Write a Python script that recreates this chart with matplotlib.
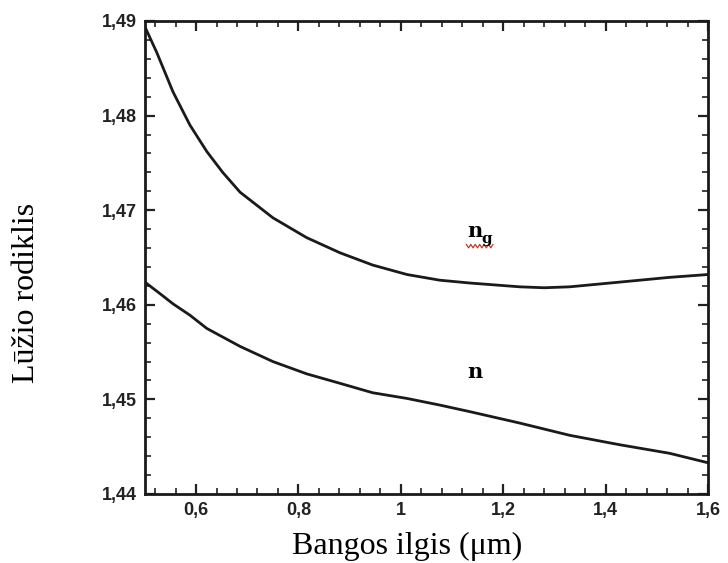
import numpy as np
import matplotlib
matplotlib.use('Agg')
import matplotlib.pyplot as plt
from matplotlib.ticker import MultipleLocator, FuncFormatter

# Wavelength in micrometres and the two refractive index curves
wl_group = [0.500, 0.523, 0.555, 0.588, 0.621, 0.652, 0.686, 0.750, 0.816,
            0.881, 0.945, 1.012, 1.076, 1.135, 1.232, 1.280, 1.330, 1.428,
            1.525, 1.600]
n_group = [1.4894, 1.4867, 1.4825, 1.4790, 1.4762, 1.4740, 1.4719, 1.4692,
           1.4671, 1.4655, 1.4642, 1.4632, 1.4626, 1.4623, 1.4619, 1.4618,
           1.4619, 1.4624, 1.4629, 1.4632]
wl_phase = [0.500, 0.529, 0.555, 0.588, 0.621, 0.686, 0.750, 0.816, 0.881,
            0.945, 1.012, 1.076, 1.135, 1.232, 1.330, 1.428, 1.525, 1.600]
n_phase = [1.4624, 1.4612, 1.4601, 1.4589, 1.4575, 1.4556, 1.4540, 1.4527,
           1.4517, 1.4507, 1.4501, 1.4494, 1.4487, 1.4475, 1.4462, 1.4452,
           1.4443, 1.4433]

x_ticks = [0.6, 0.8, 1.0, 1.2, 1.4, 1.6]
y_ticks = [1.44, 1.45, 1.46, 1.47, 1.48, 1.49]


def comma_fmt(v, pos):
    return ('%g' % round(v, 3)).replace('.', ',')


fig = plt.figure(figsize=(7.28, 5.63), dpi=100)
ax = fig.add_axes([0.199, 0.1226, 0.7735, 0.8401])

ax.plot(wl_group, n_group, color='#1a1a1a', lw=2.0, solid_joinstyle='round')
ax.plot(wl_phase, n_phase, color='#1a1a1a', lw=2.0, solid_joinstyle='round')

ax.set_xlim(0.5, 1.6)
ax.set_ylim(1.44, 1.49)
ax.set_xticks(x_ticks)
ax.set_yticks(y_ticks)
ax.xaxis.set_minor_locator(MultipleLocator(0.04))
ax.yaxis.set_minor_locator(MultipleLocator(0.002))
ax.xaxis.set_major_formatter(FuncFormatter(comma_fmt))
ax.yaxis.set_major_formatter(FuncFormatter(comma_fmt))
ax.tick_params(which='both', direction='in', top=True, right=True,
               color='#222222')
ax.tick_params(which='major', length=7, width=1.6, pad=6)
ax.tick_params(which='minor', length=4, width=1.2)
for lab in ax.get_xticklabels() + ax.get_yticklabels():
    lab.set_fontweight('bold')
    lab.set_fontsize(13)
    lab.set_family('Liberation Sans')
    lab.set_color('#222222')
for sp in ax.spines.values():
    sp.set_linewidth(2.0)
    sp.set_color('#1a1a1a')

ax.set_xlabel('Bangos ilgis (\u03bcm)', family='Liberation Serif', fontsize=23)
ax.set_ylabel('L\u016b\u017eio rodiklis', family='Liberation Serif', fontsize=23)
ax.xaxis.set_label_coords(0.465, -0.080)
ax.yaxis.set_label_coords(-0.185, 0.426)

# Curve names
ax.text(1.145, 1.4672, 'n', family='DejaVu Serif', fontweight='bold',
        fontsize=15, ha='center', va='baseline')
ax.text(1.158, 1.4665, 'g', family='DejaVu Serif', fontweight='bold',
        fontsize=11, ha='left', va='baseline')
ax.text(1.145, 1.4523, 'n', family='DejaVu Serif', fontweight='bold',
        fontsize=15, ha='center', va='baseline')

# red wavy underline beneath the subscript
wx = np.linspace(1.128, 1.180, 13)
wy = 1.4662 + 0.00018 * np.array([(-1) ** i for i in range(13)])
ax.plot(wx, wy, color='#c0392b', lw=0.9)

fig.savefig('out.png', dpi=100)
